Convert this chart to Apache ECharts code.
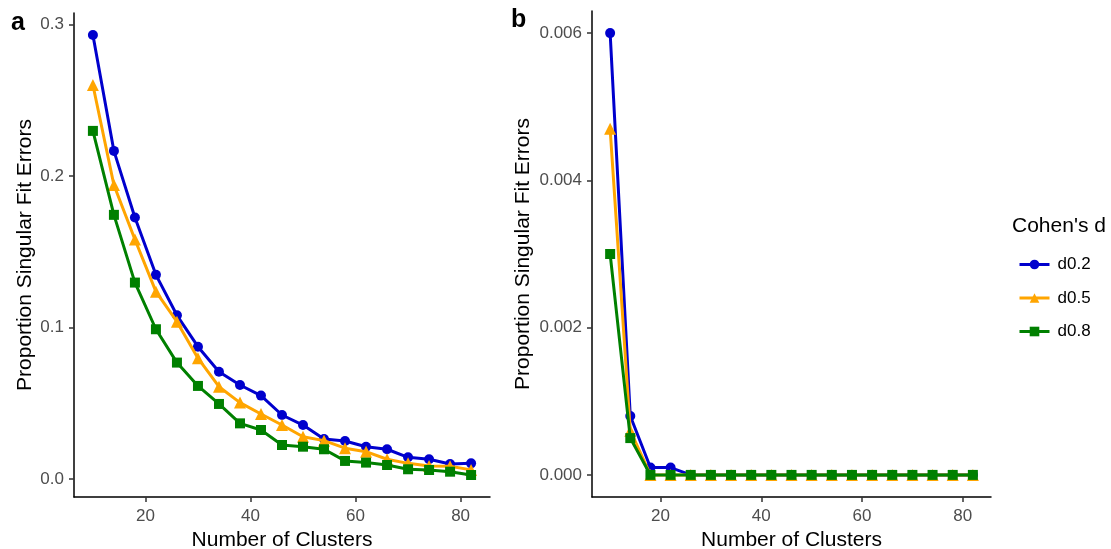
<!DOCTYPE html>
<html>
<head>
<meta charset="utf-8">
<script src="https://cdn.jsdelivr.net/npm/echarts@6/dist/echarts.min.js"></script>
<style>
html,body{margin:0;padding:0;background:#fff;}
#chart{width:1111px;height:549px;}
</style>
</head>
<body>
<div id="chart"></div>
<script>
const clusters = [10,14,18,22,26,30,34,38,42,46,50,54,58,62,66,70,74,78,82];
const seriesNames = ['d0.2','d0.5','d0.8'];

// Panel a
const aD02 = [0.293,0.2165,0.1725,0.1347,0.108,0.0873,0.0708,0.062,0.055,0.0422,0.0356,0.0264,0.0251,0.0213,0.0196,0.0143,0.013,0.0099,0.0103];
const aD05 = [0.26,0.194,0.158,0.1236,0.1038,0.0797,0.0609,0.0504,0.0429,0.0356,0.0279,0.0253,0.0203,0.018,0.013,0.0103,0.0086,0.0084,0.006];
const aD08 = [0.2297,0.1743,0.1296,0.0988,0.0768,0.0614,0.0495,0.0367,0.0323,0.0224,0.0213,0.0196,0.0119,0.0108,0.0092,0.0064,0.0059,0.0048,0.0026];

// Panel b
const bD02 = [0.006,0.0008,0.0001,0.0001,0,0,0,0,0,0,0,0,0,0,0,0,0,0,0];
const bD05 = [0.0047,0.0006,0,0,0,0,0,0,0,0,0,0,0,0,0,0,0,0,0];
const bD08 = [0.003,0.0005,0,0,0,0,0,0,0,0,0,0,0,0,0,0,0,0,0];

const xTicks = [20,40,60,80];
const aYTicks = [0,0.1,0.2,0.3];
const bYTicks = [0,0.002,0.004,0.006];

const colors = ['#0000CD','#FFA500','#008000'];
const symbols = ['circle','triangle','rect'];
const symbolSizes = [10,12,10];

function pairs(ys){ return clusters.map((x,i)=>[x,ys[i]]); }

const chart = echarts.init(document.getElementById('chart'), null, {renderer:'canvas'});

const font = 'Liberation Sans, Arial, sans-serif';
function xAxisCfg(gi){
  return {
    type:'value', gridIndex:gi, min:6.4, max:85.6,
    name:'Number of Clusters', nameLocation:'middle', nameGap:30,
    nameTextStyle:{color:'#000', fontSize:21, fontFamily:font},
    axisLine:{show:true, onZero:false, lineStyle:{color:'#000', width:1.5}},
    axisTick:{show:true, length:5, customValues:xTicks, lineStyle:{color:'#333', width:1.5}},
    axisLabel:{show:true, customValues:xTicks, color:'#4D4D4D', fontSize:17, fontFamily:font, margin:11},
    splitLine:{show:false}
  };
}
function yAxisCfg(gi, min, max, ticks, dec, gap){
  return {
    type:'value', gridIndex:gi, min:min, max:max,
    name:'Proportion Singular Fit Errors', nameLocation:'middle', nameGap: gap,
    nameTextStyle:{color:'#000', fontSize:21, fontFamily:font},
    axisLine:{show:true, onZero:false, lineStyle:{color:'#000', width:1.5}},
    axisTick:{show:true, length:5, customValues:ticks, lineStyle:{color:'#333', width:1.5}},
    axisLabel:{show:true, customValues:ticks, color:'#4D4D4D', fontSize:17, fontFamily:font, margin:10,
      formatter:(v)=>Number(v).toFixed(dec)},
    splitLine:{show:false}
  };
}

const series = [];
const aData = [aD02,aD05,aD08];
const bData = [bD02,bD05,bD08];
[aData,bData].forEach((set,gi)=>{
  set.forEach((ys,i)=>{
    series.push({
      name: seriesNames[i], type:'line', xAxisIndex:gi, yAxisIndex:gi,
      data: pairs(ys), symbol: symbols[i], symbolSize: symbolSizes[i],
      showAllSymbol:true,
      itemStyle:{color:colors[i]},
      lineStyle:{color:colors[i], width:3},
      z: 2+i, animation:false
    });
  });
});

chart.setOption({
  animation:false,
  backgroundColor:'#fff',
  grid:[
    {left:74, top:13, width:416, height:484, containLabel:false, outerBoundsMode:'none'},
    {left:592, top:11, width:399, height:486, containLabel:false, outerBoundsMode:'none'}
  ],
  xAxis:[xAxisCfg(0), xAxisCfg(1)],
  yAxis:[yAxisCfg(0,-0.0119,0.3075,aYTicks,1,38), yAxisCfg(1,-0.0003,0.0063,bYTicks,3,58)],
  legend:{
    data:seriesNames, orient:'vertical', left:1013, top:251,
    itemWidth:30, itemHeight:12, itemGap:16.5,
    lineStyle:{width:3},
    textStyle:{color:'#000', fontSize:17, fontFamily:font, padding:[0,0,0,3]}
  },
  graphic:[
    {type:'text', left:1012, top:216, style:{text:"Cohen's d", fontSize:21, fontFamily:font, fill:'#000'}},
    {type:'text', left:11, top:11, style:{text:'a', fontSize:25, fontWeight:'bold', fontFamily:font, fill:'#000'}},
    {type:'text', left:511, top:8, style:{text:'b', fontSize:25, fontWeight:'bold', fontFamily:font, fill:'#000'}}
  ],
  series:series
});
</script>
</body>
</html>
